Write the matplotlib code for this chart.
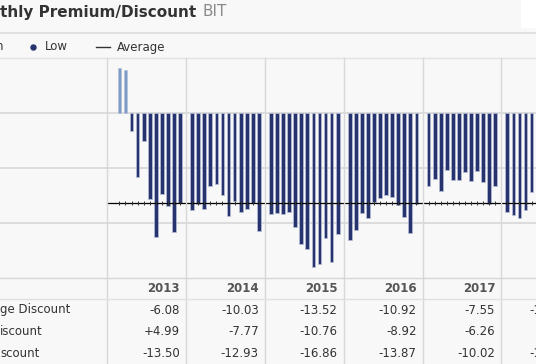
import matplotlib.pyplot as plt
from matplotlib.transforms import blended_transform_factory
from matplotlib.lines import Line2D
from matplotlib.patches import Rectangle

# monthly premium/discount values (%)
years = ['2013', '2014', '2015', '2016', '2017', '2018']
first_month = [1, 0, 0, 0, 0, 0]  # 2013 starts in February
monthly = [
    [4.15, 3.88, -1.65, -5.86, -2.56, -7.87, -11.26, -7.33, -8.45, -10.8, -8.15],
    [-8.85, -8.24, -8.73, -6.62, -6.47, -7.45, -9.34, -8.0, -8.97, -8.73, -8.2, -10.77],
    [-9.21, -9.09, -9.21, -8.97, -10.38, -11.9, -12.39, -14.04, -13.73, -11.41, -13.55, -11.05],
    [-11.53, -10.68, -9.09, -9.58, -8.06, -7.75, -7.45, -7.69, -8.42, -9.46, -10.92, -8.3],
    [-6.62, -6.01, -7.14, -5.18, -6.1, -6.1, -5.4, -6.23, -5.25, -6.26, -8.3, -6.62],
    [-9.0, -9.28, -9.58, -8.82, -7.23],
]
average = -8.15

row_labels = ['ge Discount', 'iscount', 'scount']
table_avg = ['-6.08', '-10.03', '-13.52', '-10.92', '-7.55', '-10.05']
table_high = ['+4.99', '-7.77', '-10.76', '-8.92', '-6.26', '-8.54']
table_low = ['-13.50', '-12.93', '-16.86', '-13.87', '-10.02', '-11.96']
# right edge of each table column text, in month slots
col_right = [12, 25, 38, 51, 64, 75.9]

W, H = 536, 364
slot = 78.8 / 13  # px per month slot, 13 slots per year
x0 = 107.3        # px of the 2013 gridline

fig = plt.figure(figsize=(W / 100, H / 100), dpi=100, facecolor='#f8f8f8')

def fy(py):
    return 1 - py / H

# header band
fig.patches.append(Rectangle((521 / W, fy(28)), 1, 1, transform=fig.transFigure,
                             facecolor='white', edgecolor='none'))
fig.lines.append(Line2D([0, 1], [fy(33.3)] * 2, transform=fig.transFigure, color='#dcdcdc', lw=1.2))
fig.lines.append(Line2D([0, 1], [fy(58.2)] * 2, transform=fig.transFigure, color='#e2e2e2', lw=1.0))
fig.text(-0.5 / W, fy(12), 'thly Premium/Discount', fontsize=11, fontweight='bold',
         color='#333333', va='center', ha='left')
fig.text(203 / W, fy(12), 'BIT', fontsize=11, color='#8a8a8a', va='center', ha='left')

# legend
fig.text(3.5 / W, fy(47), 'n', fontsize=8.5, color='#333333', va='center', ha='right')
fig.lines.append(Line2D([33 / W], [fy(46.5)], transform=fig.transFigure, marker='o',
                        markersize=3.6, color='#26336e', lw=0))
fig.text(45 / W, fy(47), 'Low', fontsize=8.5, color='#333333', va='center', ha='left')
fig.lines.append(Line2D([96 / W, 110 / W], [fy(46.5)] * 2, transform=fig.transFigure,
                        color='#333333', lw=1))
fig.text(117 / W, fy(47), 'Average', fontsize=8.5, color='#333333', va='center', ha='left')

# plot area
ax = fig.add_axes([0, fy(277.7), 1, (277.7 - 58.2) / H])
ax.set_facecolor('#f8f8f8')
ax.set_xlim(-x0 / slot, (W - x0) / slot)
ax.set_ylim(-15, 5)
for s in ax.spines.values():
    s.set_visible(False)
ax.set_xticks([])
ax.set_yticks([])

for yv in [0, -5, -10]:
    ax.axhline(yv, color='#dadada', lw=1.3, zorder=0)

month_x = []
for i, (vals, fm) in enumerate(zip(monthly, first_month)):
    xs = [13 * i + 1 + fm + k for k in range(len(vals))]
    month_x += xs
    cols = ['#7b9cc9' if v > 0 else '#26336e' for v in vals]
    ax.bar(xs, vals, width=0.62, color=cols, edgecolor='#b8bfd6', linewidth=0.5, zorder=2)

avg_x = [0] + month_x + [ax.get_xlim()[1]]
ax.plot(avg_x, [average] * len(avg_x), color='black', lw=0.9, zorder=3)
ax.plot(month_x, [average] * len(month_x), ls='none', marker='|', markersize=2.5,
        mew=0.7, color='#333333', zorder=3)

# year gridlines through plot and table
tr = blended_transform_factory(ax.transData, fig.transFigure)
for i in range(len(years)):
    xb = 13 * i
    fig.lines.append(Line2D([xb, xb], [fy(58.2), 0], transform=tr, color='#d8d8d8', lw=1.0))
fig.lines.append(Line2D([0, 1], [fy(277.7)] * 2, transform=fig.transFigure, color='#d6d6d6', lw=1.0))
fig.lines.append(Line2D([0, 1], [fy(299.3)] * 2, transform=fig.transFigure, color='#e0e0e0', lw=1.0))

# table
for i, yr in enumerate(years):
    xr = col_right[i]
    fig.text(xr, fy(289), yr, transform=tr, fontsize=8.5, fontweight='bold',
             color='#555555', ha='right', va='center')
    for py, col in zip([310, 331.7, 353.3], [table_avg, table_high, table_low]):
        fig.text(xr, fy(py), col[i], transform=tr, fontsize=8.5, color='#333333',
                 ha='right', va='center')
for py, lab in zip([310, 331.7, 353.3], row_labels):
    fig.text(0, fy(py), lab, fontsize=8.5, color='#333333', ha='left', va='center')

fig.savefig('out.png', dpi=100, facecolor=fig.get_facecolor())
